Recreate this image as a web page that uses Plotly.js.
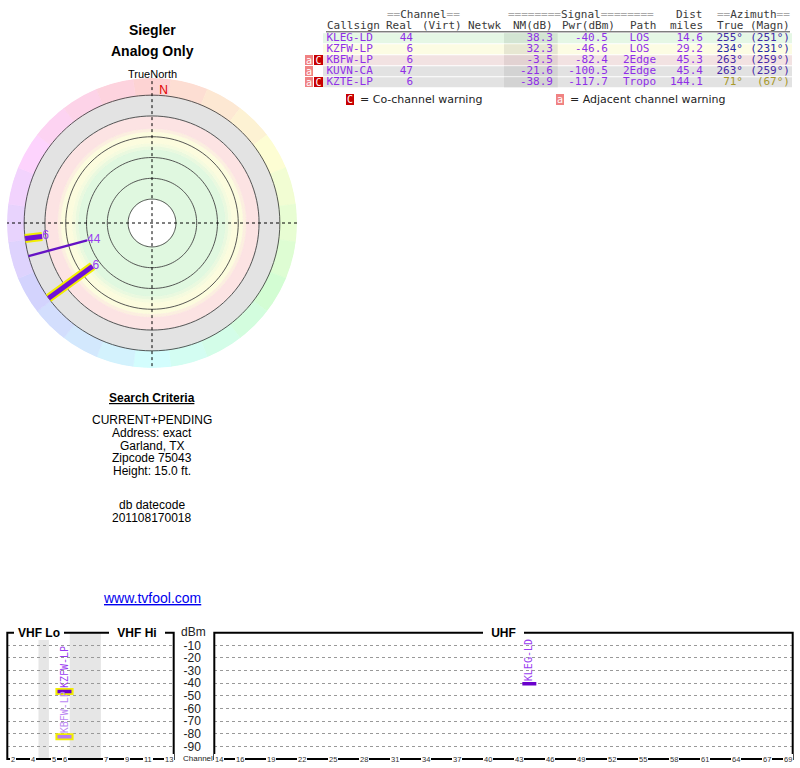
<!DOCTYPE html>
<html><head><meta charset="utf-8">
<script src="https://cdn.plot.ly/plotly-3.0.1.min.js"></script>
<style>html,body{margin:0;padding:0;background:#fff}</style>
</head><body><div id="chart" style="width:800px;height:768px"></div>
<script>
// ---------------- DATA ----------------
const callsigns      = ['KLEG-LD', 'KZFW-LP', 'KBFW-LP', 'KUVN-CA', 'KZTE-LP'];
const realChannels   = [44, 6, 6, 47, 6];
const virtChannels   = ['', '', '', '', ''];
const networks       = ['', '', '', '', ''];
const noiseMarginDb  = [38.3, 32.3, -3.5, -21.6, -38.9];
const powerDbm       = [-40.5, -46.6, -82.4, -100.5, -117.7];
const paths          = ['LOS', 'LOS', '2Edge', '2Edge', 'Tropo'];
const distMiles      = [14.6, 29.2, 45.3, 45.4, 144.1];
const azimuthTrue    = [255, 234, 263, 263, 71];
const azimuthMagn    = [251, 231, 259, 259, 67];
const warnings       = ['', '', 'aC', 'a', 'aC'];
const vhfTickChannels = [2, 4, 5, 6, 7, 9, 11, 13];
const uhfTickChannels = [14, 16, 19, 22, 25, 28, 31, 34, 37, 40, 43, 46, 49, 52, 55, 58, 61, 64, 67, 69];
const dbmTicks        = [-10, -20, -30, -40, -50, -60, -70, -80, -90];
const nmRings         = [80, 60, 40, 20, 0, -20];
const siteTitle   = 'Siegler';
const siteSubtitle = 'Analog Only';
const criteriaLines = ['CURRENT+PENDING', 'Address: exact', 'Garland, TX', 'Zipcode 75043', 'Height: 15.0 ft.'];
const datecodeLines = ['db datecode', '201108170018'];

// ---------------- STYLE / LAYOUT HELPERS ----------------
const MONO = 'DejaVu Sans Mono', SANS = 'Liberation Sans', DSANS = 'DejaVu Sans';
const px = x => x / 800, py = y => 1 - y / 768;
const PURPLE_TXT = '#8f2ee8';
const rowIdx = callsigns.map((_, i) => i);

function rowColor(nm) {
  if (nm >= 35) return ['#e5f7e5', '#d3e5d3'];
  if (nm >= 10) return ['#fcfce3', '#e7e7d2'];
  if (nm >= -10) return ['#f2e2e2', '#e2d2d2'];
  return ['#e2e2e2', '#d3d3d3'];
}
function azColor(az) {
  const hue = az >= 200 ? 240 + (az - 234) * 0.5 : az * 0.75;
  return `hsl(${hue},60%,41%)`;
}

const annotations = [];
const shapes = [];
function ann(o) { annotations.push(Object.assign({showarrow: false, borderwidth: 0, borderpad: 0, xanchor: 'center', yanchor: 'middle'}, o)); }

// ---------------- LEFT PANEL TEXT ----------------
const leftFont = s => ({family: SANS, size: s, color: '#000'});
ann({xref: 'paper', yref: 'paper', x: px(152), y: py(30), text: '<b>' + siteTitle + '</b>', font: leftFont(14)});
ann({xref: 'paper', yref: 'paper', x: px(152), y: py(51), text: '<b>' + siteSubtitle + '</b>', font: leftFont(14)});
ann({xref: 'paper', yref: 'paper', x: px(152), y: py(73.5), text: 'TrueNorth', font: leftFont(11)});
ann({xref: 'paper', yref: 'paper', x: px(152), y: py(398), text: '<b><u>Search Criteria</u></b>', font: leftFont(12)});
const critY = [420, 432.5, 445.5, 458, 470.5];
criteriaLines.forEach((t, i) => ann({xref: 'paper', yref: 'paper', x: px(152), y: py(critY[i]), text: t, font: leftFont(12)}));
const dateY = [505, 518];
datecodeLines.forEach((t, i) => ann({xref: 'paper', yref: 'paper', x: px(152), y: py(dateY[i]), text: t, font: leftFont(12)}));
ann({xref: 'paper', yref: 'paper', x: px(152), y: py(598), text: '<u>www.tvfool.com</u>', font: {family: SANS, size: 14, color: '#0000ee'}});

// ---------------- POLAR (radar) ----------------
const R_CENTER = 103, R_EDGE = -36.5, FLOOR = -20, CROSS_END = -33.5;
const traces = [];
const zoneBands = [
  [32, 80, '#e0f8e0'], [29, 32, '#eaf9df'], [26, 29, '#f5fbdf'], [15, 26, '#fcfcde'],
  [12, 15, '#fcefe0'], [0, 12, '#fce3e3'], [FLOOR, 0, '#e3e3e3']
];
{
  const t = [], b = [], r = [], c = [], w = [];
  zoneBands.forEach(([lo, hi, col]) => [45, 135, 225, 315].forEach(a => { t.push(a); b.push(lo); r.push(hi - lo); c.push(col); w.push(90); }));
  traces.push({type: 'barpolar', subplot: 'polar', theta: t, base: b, r: r, width: w,
    marker: {color: c, line: {width: 0.6, color: c}}, hoverinfo: 'skip', showlegend: false});
  const t2 = [], b2 = [], r2 = [], c2 = [], w2 = [];
  for (let a = 0; a < 360; a += 15) {
    t2.push(a); b2.push(R_EDGE); r2.push(FLOOR - R_EDGE); w2.push(15);
    c2.push(`hsl(${a},90%,91%)`);
  }
  traces.push({type: 'barpolar', subplot: 'polar', theta: t2, base: b2, r: r2, width: w2,
    marker: {color: c2, line: {width: 0.6, color: c2}}, hoverinfo: 'skip', showlegend: false});
}
{
  const rt = [], rr = [];
  nmRings.forEach(v => { for (let a = 0; a <= 360; a += 3) { rt.push(a); rr.push(v); } rt.push(null); rr.push(null); });
  traces.push({type: 'scatterpolar', subplot: 'polar', mode: 'lines', r: rr, theta: rt,
    line: {color: '#444', width: 0.9}, hoverinfo: 'skip', showlegend: false});
  traces.push({type: 'scatterpolar', subplot: 'polar', mode: 'lines',
    r: [CROSS_END, R_CENTER, R_EDGE, null, R_EDGE, R_CENTER, R_EDGE],
    theta: [0, 0, 180, null, 90, 90, 270],
    line: {color: '#000', width: 1, dash: 'dot'}, hoverinfo: 'skip', showlegend: false});
}
const drawn = rowIdx.filter(i => noiseMarginDb[i] > FLOOR);
drawn.filter(i => realChannels[i] <= 13).forEach(i => {
  traces.push({type: 'scatterpolar', subplot: 'polar', mode: 'lines', r: [noiseMarginDb[i], FLOOR], theta: [azimuthTrue[i], azimuthTrue[i]],
    line: {color: '#f2ee00', width: 9}, hoverinfo: 'skip', showlegend: false});
});
drawn.forEach(i => {
  const vhf = realChannels[i] <= 13;
  traces.push({type: 'scatterpolar', subplot: 'polar', mode: 'lines', r: [noiseMarginDb[i], FLOOR], theta: [azimuthTrue[i], azimuthTrue[i]],
    line: {color: vhf ? '#7010d8' : '#6412c4', width: vhf ? 5 : 2.4}, hoverinfo: 'skip', showlegend: false});
});
traces.push({type: 'scatterpolar', subplot: 'polar', mode: 'text',
  r: drawn.map(i => noiseMarginDb[i]), theta: drawn.map(i => azimuthTrue[i]),
  text: drawn.map(i => String(realChannels[i])), textposition: 'middle right',
  textfont: {family: SANS, size: 12, color: '#9a3cf0'}, hoverinfo: 'skip', showlegend: false});
traces.push({type: 'scatterpolar', subplot: 'polar', mode: 'text', r: [-24.5], theta: [5], text: ['N'],
  textposition: 'middle center', textfont: {family: SANS, size: 12, color: '#e00000'}, hoverinfo: 'skip', showlegend: false});

// ---------------- TABLE ----------------
const TAB = {rowStart: 323, rowEnd: 792, nmStart: 504, nmEnd: 557.7,
  callsign: 326.5, real: 413, nm: 553, pwr: 608, path: 639.5, miles: 703, az: 743, magn: 790};
const rowCols = noiseMarginDb.map(rowColor);
traces.push({type: 'bar', orientation: 'h', xaxis: 'x3', yaxis: 'y3', y: rowIdx,
  x: rowIdx.map(() => TAB.rowEnd - TAB.rowStart), base: TAB.rowStart, width: 10 / 11,
  marker: {color: rowCols.map(c => c[0]), line: {width: 0}}, hoverinfo: 'skip', showlegend: false});
traces.push({type: 'bar', orientation: 'h', xaxis: 'x3', yaxis: 'y3', y: rowIdx,
  x: rowIdx.map(() => TAB.nmEnd - TAB.nmStart), base: TAB.nmStart, width: 10 / 11,
  marker: {color: rowCols.map(c => c[1]), line: {width: 0}}, hoverinfo: 'skip', showlegend: false});
function textCol(x, texts, pos, colors) {
  traces.push({type: 'scatter', mode: 'text', xaxis: 'x3', yaxis: 'y3', x: texts.map(() => x), y: rowIdx,
    text: texts, textposition: pos, textfont: {family: MONO, size: 11, color: colors},
    hoverinfo: 'skip', showlegend: false, cliponaxis: false});
}
textCol(TAB.callsign, callsigns, 'middle right', PURPLE_TXT);
textCol(TAB.real, realChannels.map(String), 'middle left', PURPLE_TXT);
textCol(TAB.nm, noiseMarginDb.map(v => v.toFixed(1)), 'middle left', PURPLE_TXT);
textCol(TAB.pwr, powerDbm.map(v => v.toFixed(1)), 'middle left', PURPLE_TXT);
textCol(TAB.path, paths, 'middle center', PURPLE_TXT);
textCol(TAB.miles, distMiles.map(v => v.toFixed(1)), 'middle left', PURPLE_TXT);
textCol(TAB.az, azimuthTrue.map(v => v + '°'), 'middle left', azimuthTrue.map(azColor));
textCol(TAB.magn, azimuthMagn.map(v => '(' + v + '°)'), 'middle left', azimuthTrue.map(azColor));

const HDR_TOP = -2.16, HDR = -1.16, LEG = 5.53;
const eq = s => '<span style="color:#aaa">' + s + '</span>';
const hdrFont = {family: MONO, size: 11, color: '#3a3a3a'};
[[387, 'left', eq('==') + 'Channel' + eq('==')],
 [507.5, 'left', eq('========') + 'Signal' + eq('========')],
 [703, 'right', 'Dist'],
 [716.5, 'left', eq('==') + 'Azimuth' + eq('==')]].forEach(([x, a, t]) =>
  ann({xref: 'x3', yref: 'y3', x: x, y: HDR_TOP, xanchor: a, text: t, font: hdrFont}));
[[326.5, 'left', 'Callsign'], [413, 'right', 'Real'], [421.5, 'left', '(Virt)'], [468, 'left', 'Netwk'],
 [553, 'right', 'NM(dB)'], [615, 'right', 'Pwr(dBm)'], [630, 'left', 'Path'], [703, 'right', 'miles'],
 [716.5, 'left', 'True'], [790, 'right', '(Magn)']].forEach(([x, a, t]) =>
  ann({xref: 'x3', yref: 'y3', x: x, y: HDR, xanchor: a, text: t, font: hdrFont}));
shapes.push({type: 'line', xref: 'x3', yref: 'y3', x0: 326, x1: 790, y0: -0.58, y1: -0.58, line: {color: '#444', width: 1}});

const badgeStyle = {a: {bg: '#f08282', x: 309, w: 8}, C: {bg: '#c80000', x: 318.5, w: 9}};
warnings.forEach((wv, i) => wv.split('').forEach(ch => {
  const s = badgeStyle[ch];
  ann({xref: 'x3', yref: 'y3', x: s.x, y: i, text: ch, bgcolor: s.bg, width: s.w, height: 10,
    font: {family: MONO, size: 10, color: '#fff'}});
}));
ann({xref: 'x3', yref: 'y3', x: 350, y: LEG, text: 'C', bgcolor: badgeStyle.C.bg, width: 8, height: 11, font: {family: MONO, size: 10, color: '#fff'}});
ann({xref: 'x3', yref: 'y3', x: 359.5, y: LEG, xanchor: 'left', text: '= Co-channel warning', font: {family: DSANS, size: 11, color: '#222'}});
ann({xref: 'x3', yref: 'y3', x: 559.5, y: LEG, text: 'a', bgcolor: badgeStyle.a.bg, width: 8, height: 11, font: {family: MONO, size: 10, color: '#fff'}});
ann({xref: 'x3', yref: 'y3', x: 569.5, y: LEG, xanchor: 'left', text: '= Adjacent channel warning', font: {family: DSANS, size: 11, color: '#222'}});

// ---------------- BOTTOM SPECTRUM CHARTS ----------------
function vhfSlot(ch) { return ch - 2 + (ch >= 5 ? 1 : 0) + (ch >= 7 ? 3 : 0); }
const inRange = i => powerDbm[i] >= -100;
const vhfI = rowIdx.filter(i => realChannels[i] <= 13 && inRange(i));
const uhfI = rowIdx.filter(i => realChannels[i] >= 14 && inRange(i));
const markColor = i => noiseMarginDb[i] >= 0 ? '#6a00cc' : '#b87cf2';
const labelColor = i => noiseMarginDb[i] >= 0 ? '#9a3cf0' : '#bb88f2';

for (let ch = 2; ch < 13; ch++) {
  const a = vhfSlot(ch), b = vhfSlot(ch + 1);
  if (b - a > 1) shapes.push({type: 'rect', xref: 'x', yref: 'y domain', x0: a + 0.5, x1: b - 0.5, y0: 0, y1: 1,
    fillcolor: '#e6e6e6', line: {width: 0}, layer: 'below'});
}
traces.push({type: 'scatter', mode: 'markers', xaxis: 'x', yaxis: 'y', x: vhfI.map(i => vhfSlot(realChannels[i])), y: vhfI.map(i => powerDbm[i]),
  marker: {symbol: 'line-ew', size: 13, line: {width: 7, color: '#f2ee00'}}, hoverinfo: 'skip', showlegend: false});
traces.push({type: 'scatter', mode: 'markers', xaxis: 'x', yaxis: 'y', x: vhfI.map(i => vhfSlot(realChannels[i])), y: vhfI.map(i => powerDbm[i]),
  marker: {symbol: 'line-ew', size: 10, line: {width: 3.5, color: vhfI.map(markColor)}}, hoverinfo: 'skip', showlegend: false});
traces.push({type: 'scatter', mode: 'markers', xaxis: 'x2', yaxis: 'y2', x: uhfI.map(i => realChannels[i]), y: uhfI.map(i => powerDbm[i]),
  marker: {symbol: 'line-ew', size: 10, line: {width: 3.5, color: uhfI.map(markColor)}}, hoverinfo: 'skip', showlegend: false});
vhfI.forEach(i => ann({xref: 'x', yref: 'y', x: vhfSlot(realChannels[i]), y: powerDbm[i], yanchor: 'bottom', yshift: 3,
  textangle: -90, text: callsigns[i], font: {family: MONO, size: 10, color: labelColor(i)}}));
uhfI.forEach(i => ann({xref: 'x2', yref: 'y2', x: realChannels[i], y: powerDbm[i], yanchor: 'bottom', yshift: 3,
  textangle: -90, text: callsigns[i], font: {family: MONO, size: 10, color: labelColor(i)}}));

shapes.push({type: 'rect', xref: 'x domain', yref: 'y domain', x0: 0, x1: 1, y0: 0, y1: 1, line: {color: '#000', width: 2}});
shapes.push({type: 'rect', xref: 'x2 domain', yref: 'y2 domain', x0: 0, x1: 1, y0: 0, y1: 1, line: {color: '#000', width: 2}});
const bandTitle = {family: SANS, size: 12, color: '#000'};
ann({xref: 'x', yref: 'y domain', x: (vhfSlot(2) + vhfSlot(6)) / 2, y: 1, text: '<b>VHF Lo</b>', width: 50, height: 14, bgcolor: '#fff', font: bandTitle});
ann({xref: 'x', yref: 'y domain', x: (vhfSlot(7) + vhfSlot(13)) / 2, y: 1, text: '<b>VHF Hi</b>', width: 56, height: 14, bgcolor: '#fff', font: bandTitle});
ann({xref: 'x2', yref: 'y2 domain', x: (14 + 69) / 2, y: 1, text: '<b>UHF</b>', width: 41, height: 14, bgcolor: '#fff', font: bandTitle});
const tickFont = {family: SANS, size: 7.5, color: '#333'};
vhfTickChannels.forEach(ch => ann({xref: 'x', yref: 'y domain', x: vhfSlot(ch), y: 0, text: String(ch), bgcolor: '#fff', borderpad: 1, font: tickFont}));
uhfTickChannels.forEach(ch => ann({xref: 'x2', yref: 'y2 domain', x: ch, y: 0, text: String(ch), bgcolor: '#fff', borderpad: 1, font: tickFont}));
ann({xref: 'paper', yref: 'paper', x: px(193), y: py(631.5), text: 'dBm', font: {family: SANS, size: 12, color: '#222'}});
ann({xref: 'paper', yref: 'paper', x: px(212.5), y: py(758), xanchor: 'right', text: 'Channel', font: {family: SANS, size: 8, color: '#222'}});

// ---------------- LAYOUT ----------------
const yDom = [py(759), py(632.7)];
const gridY = {range: [-100, 0], tickvals: dbmTicks, showgrid: true, gridcolor: '#999', griddash: 'dot', gridwidth: 1,
  zeroline: false, showline: false, fixedrange: true};
const layout = {
  width: 800, height: 768, autosize: false, margin: {l: 0, r: 0, t: 0, b: 0},
  paper_bgcolor: '#fff', plot_bgcolor: 'rgba(0,0,0,0)', showlegend: false, hovermode: false,
  font: {family: SANS}, barmode: 'overlay',
  polar: {
    domain: {x: [px(7), px(297)], y: [py(368), py(78)]},
    bgcolor: 'rgba(0,0,0,0)', hole: 0,
    radialaxis: {range: [R_CENTER, R_EDGE], visible: false, showgrid: false, showticklabels: false, ticks: '', showline: false},
    angularaxis: {rotation: 90, direction: 'clockwise', visible: false, showgrid: false, showticklabels: false, ticks: '', showline: false}
  },
  xaxis: {domain: [px(7.3), px(173.7)], range: [-0.5, 15.5], visible: false, anchor: 'y', fixedrange: true},
  yaxis: Object.assign({domain: yDom, anchor: 'x', showticklabels: false, ticks: ''}, gridY),
  xaxis2: {domain: [px(214.3), px(792.7)], range: [13.5, 69.5], visible: false, anchor: 'y2', fixedrange: true},
  yaxis2: Object.assign({domain: yDom, anchor: 'x2', showticklabels: true, ticktext: dbmTicks.map(String),
    tickfont: {family: SANS, size: 12, color: '#222'}, ticks: 'outside', ticklen: 10, tickcolor: 'rgba(0,0,0,0)'}, gridY),
  xaxis3: {domain: [px(300), 1], range: [300, 800], visible: false, anchor: 'y3', fixedrange: true},
  yaxis3: {domain: [py(110), py(10)], range: [6.527, -2.564], visible: false, anchor: 'x3', fixedrange: true},
  annotations: annotations,
  shapes: shapes
};
Plotly.newPlot('chart', traces, layout, {staticPlot: true, displayModeBar: false});
</script>
</body></html>
